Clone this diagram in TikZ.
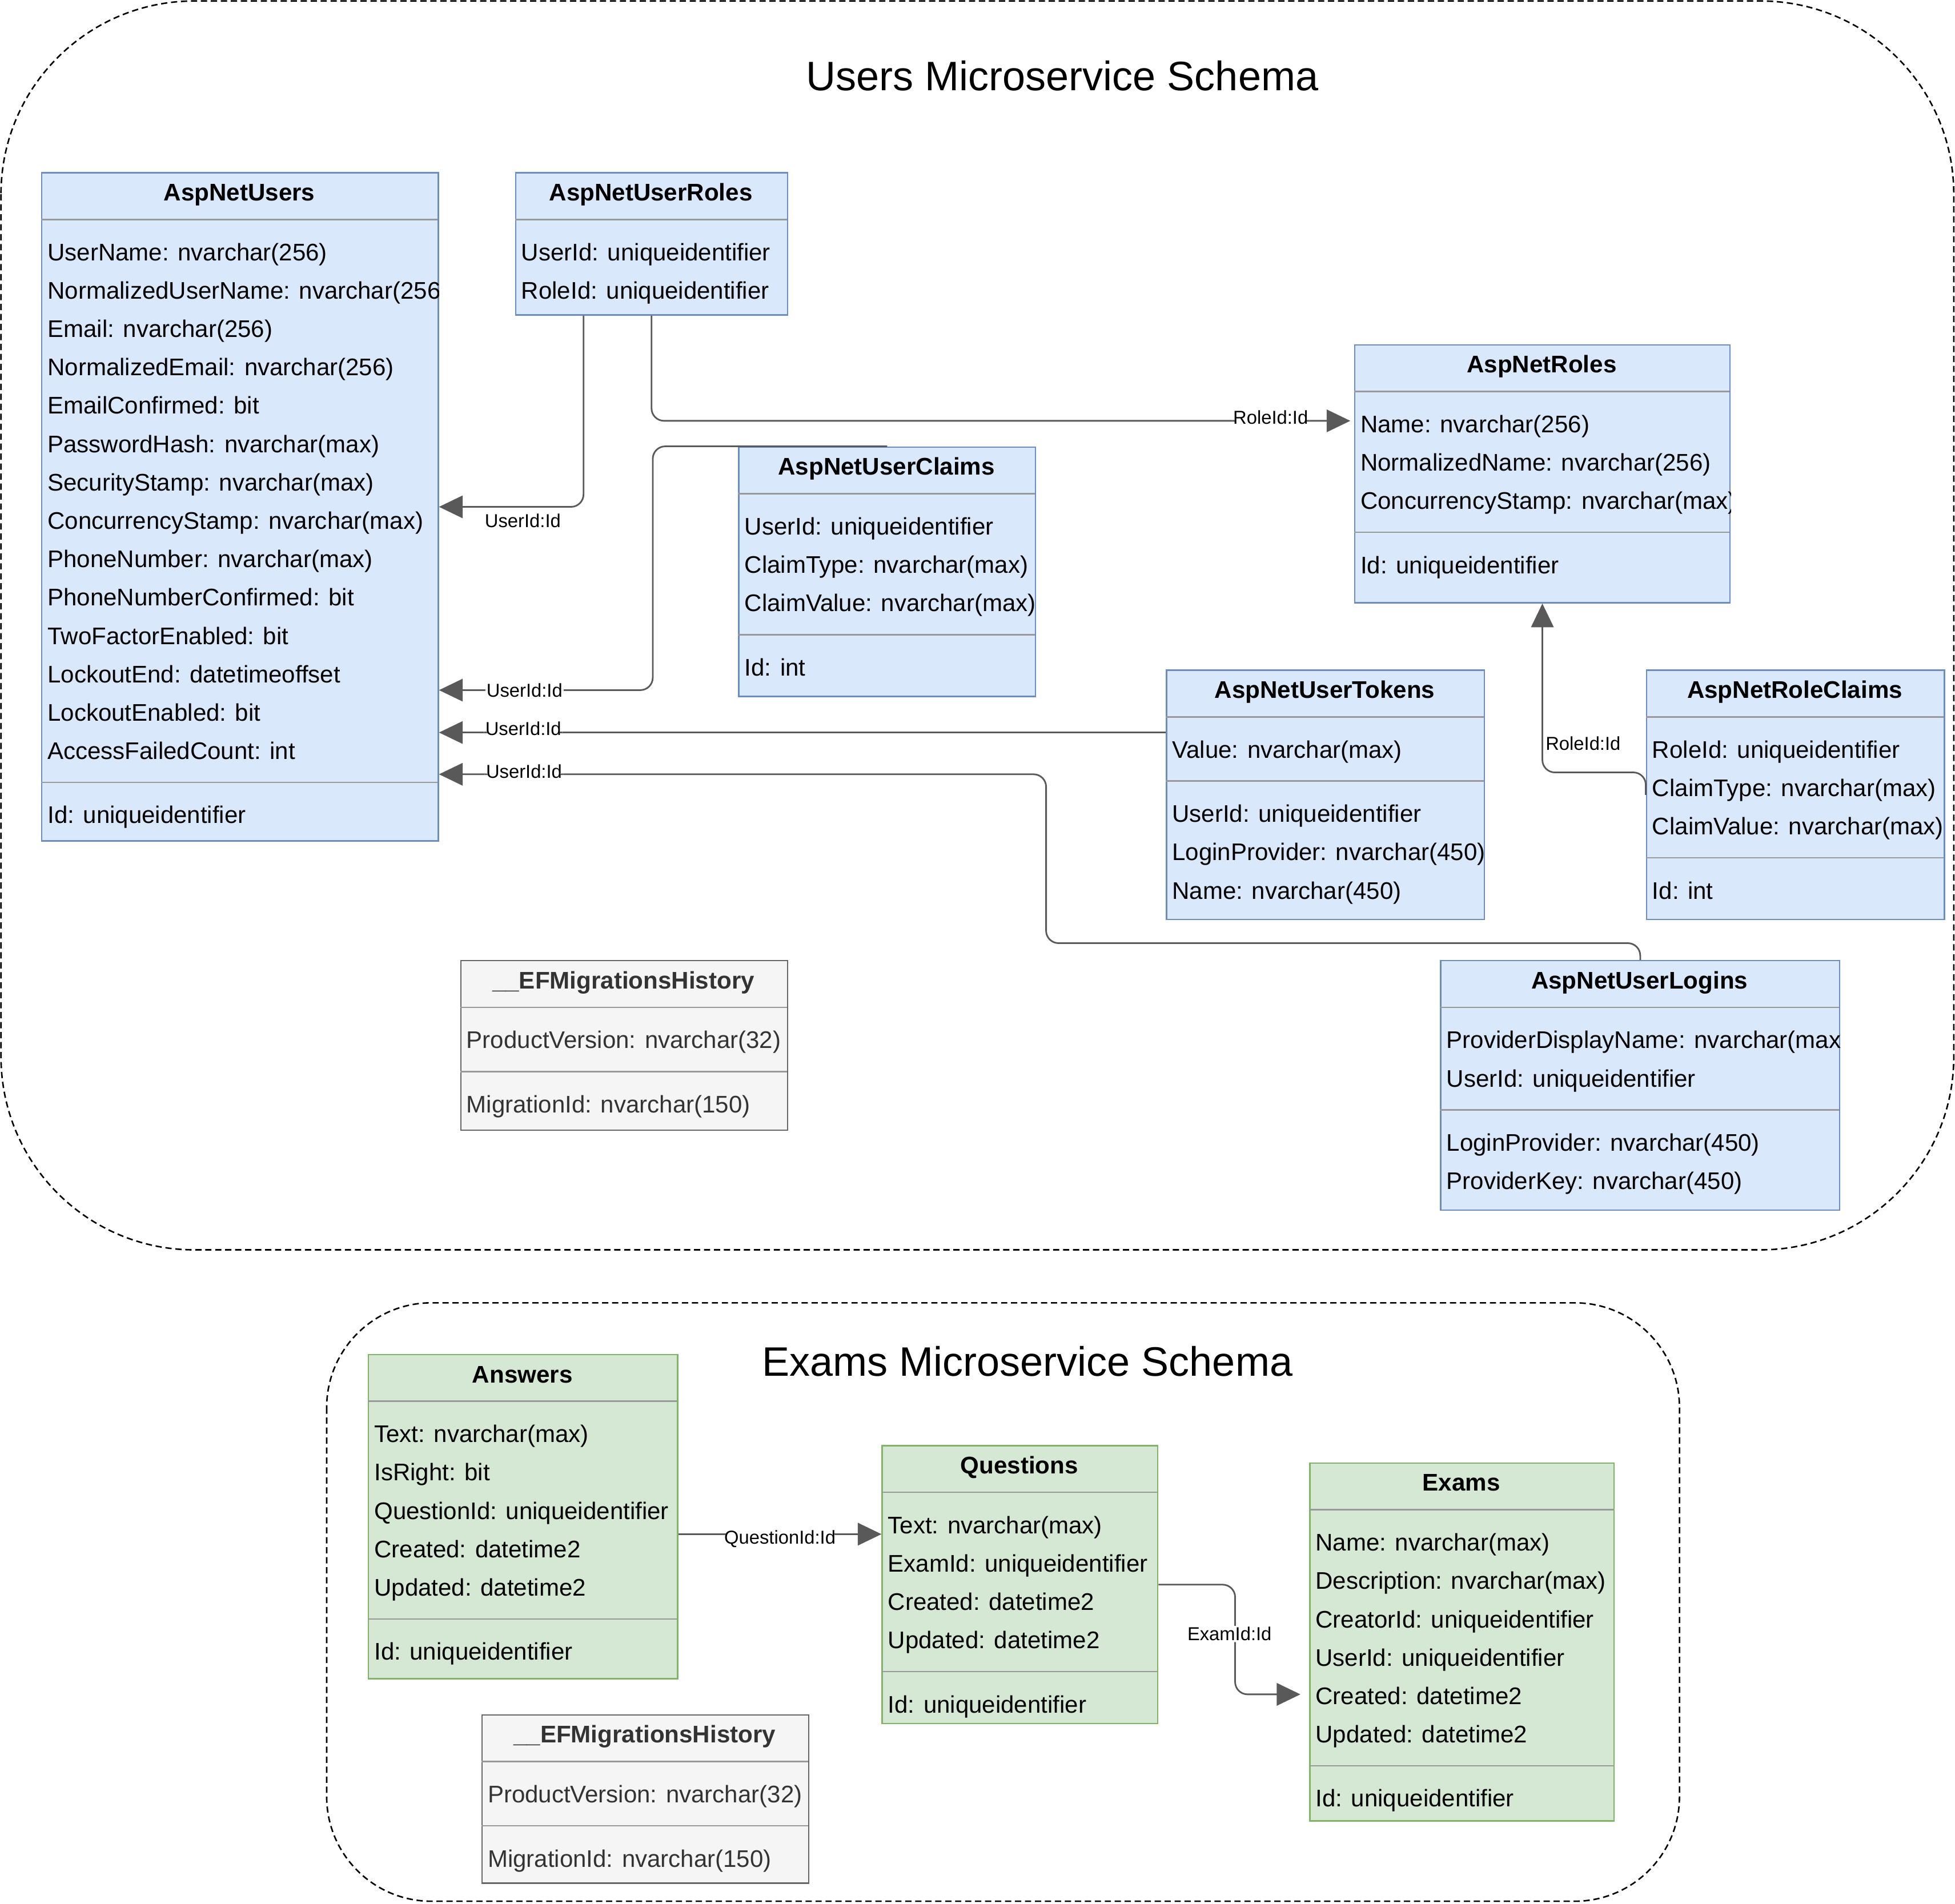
\documentclass[tikz,border=0pt]{standalone}
\usepackage{fontspec}
\setmainfont{Liberation Sans}
\usetikzlibrary{arrows.meta}
\definecolor{tblblue}{HTML}{DAE8FC}
\definecolor{lineblue}{HTML}{6C8EBF}
\definecolor{tblgreen}{HTML}{D5E8D4}
\definecolor{linegreen}{HTML}{82B366}
\definecolor{tblgray}{HTML}{F5F5F5}
\definecolor{linegray}{HTML}{666666}
\definecolor{txtgray}{HTML}{333333}
\definecolor{sepgray}{HTML}{999999}
\definecolor{fkgray}{HTML}{595959}

\begin{document}
\begin{tikzpicture}
  [x=1pt,y=-1pt,
   every node/.style={inner sep=0pt},
   box/.style={draw, line width=1.1pt, anchor=north west},
   bluebox/.style={box, draw=lineblue, fill=tblblue},
   greenbox/.style={box, draw=linegreen, fill=tblgreen},
   graybox/.style={box, draw=linegray, fill=tblgray},
   hdr/.style={anchor=base, font=\fontsize{19.3}{23}\selectfont\bfseries},
   fld/.style={anchor=base west, font=\fontsize{19.25}{23}\selectfont},
   sep/.style={draw=sepgray, line width=1.2pt},
   fk/.style={draw=fkgray, line width=1.3pt, rounded corners=10pt, -{Triangle[length=19pt,width=18pt]}},
   lbl/.style={font=\fontsize{15}{18}\selectfont, fill=white, inner sep=1pt},
   group/.style={draw, dash pattern=on 5pt off 3pt, line width=1.2pt}]

  \useasboundingbox (0,0) rectangle (1568,1527);

  % schema frames
  \draw[group, rounded corners=155pt] (0.8,0.8) rectangle (1567,1002.5);
  \draw[group, rounded corners=84pt] (262,1045) rectangle (1347,1525);
  \node[font=\fontsize{33}{40}\selectfont] (userstitle) at (852,61) {Users Microservice Schema};
  \node[font=\fontsize{33}{40}\selectfont] (examstitle) at (824,1092) {Exams Microservice Schema};

  % AspNetUsers
  \node[bluebox, minimum width=318pt, minimum height=536pt] (users) at (33,138) {};
  \node[hdr] at (192,161) {AspNetUsers};
  \draw[sep] (33,176) -- (351,176);
  \begin{scope}
    \clip (users.north west) rectangle (users.south east);
    \foreach \f [count=\i from 0] in {UserName: nvarchar(256), NormalizedUserName: nvarchar(256),
      Email: nvarchar(256), NormalizedEmail: nvarchar(256), EmailConfirmed: bit,
      PasswordHash: nvarchar(max), SecurityStamp: nvarchar(max), ConcurrencyStamp: nvarchar(max),
      PhoneNumber: nvarchar(max), PhoneNumberConfirmed: bit, TwoFactorEnabled: bit,
      LockoutEnd: datetimeoffset, LockoutEnabled: bit, AccessFailedCount: int}
      \node[fld] at (38,{209+30.77*\i}) {\f};
  \end{scope}
  \draw[sep] (33,627.5) -- (351,627.5);
  \node[fld] at (38,660.5) {Id: uniqueidentifier};

  % AspNetUserRoles
  \node[bluebox, minimum width=218pt, minimum height=114pt] (userroles) at (413,138) {};
  \node[hdr] at (522,161) {AspNetUserRoles};
  \draw[sep] (413,176) -- (631,176);
  \foreach \f [count=\i from 0] in {UserId: uniqueidentifier, RoleId: uniqueidentifier}
    \node[fld] at (418,{209+30.77*\i}) {\f};

  % AspNetRoles
  \node[bluebox, minimum width=301pt, minimum height=207pt] (roles) at (1086,276) {};
  \node[hdr] at (1236.5,299) {AspNetRoles};
  \draw[sep] (1086,314) -- (1387,314);
  \begin{scope}
    \clip (roles.north west) rectangle (roles.south east);
    \foreach \f [count=\i from 0] in {Name: nvarchar(256), NormalizedName: nvarchar(256), ConcurrencyStamp: nvarchar(max)}
      \node[fld] at (1091,{347+30.77*\i}) {\f};
  \end{scope}
  \draw[sep] (1086,427) -- (1387,427);
  \node[fld] at (1091,460) {Id: uniqueidentifier};

  % AspNetUserClaims
  \node[bluebox, minimum width=238pt, minimum height=200pt] (userclaims) at (592,358) {};
  \node[hdr] at (711,381) {AspNetUserClaims};
  \draw[sep] (592,396) -- (830,396);
  \foreach \f [count=\i from 0] in {UserId: uniqueidentifier, ClaimType: nvarchar(max), ClaimValue: nvarchar(max)}
    \node[fld] at (597,{429+30.77*\i}) {\f};
  \draw[sep] (592,509) -- (830,509);
  \node[fld] at (597,542) {Id: int};

  % AspNetUserTokens
  \node[bluebox, minimum width=255pt, minimum height=200pt] (usertokens) at (935,537) {};
  \node[hdr] at (1062.5,560) {AspNetUserTokens};
  \draw[sep] (935,575) -- (1190,575);
  \node[fld] at (940,608) {Value: nvarchar(max)};
  \draw[sep] (935,626.5) -- (1190,626.5);
  \foreach \f [count=\i from 0] in {UserId: uniqueidentifier, LoginProvider: nvarchar(450), Name: nvarchar(450)}
    \node[fld] at (940,{659.5+30.77*\i}) {\f};

  % AspNetRoleClaims
  \node[bluebox, minimum width=239pt, minimum height=200pt] (roleclaims) at (1320,537) {};
  \node[hdr] at (1439.5,560) {AspNetRoleClaims};
  \draw[sep] (1320,575) -- (1559,575);
  \foreach \f [count=\i from 0] in {RoleId: uniqueidentifier, ClaimType: nvarchar(max), ClaimValue: nvarchar(max)}
    \node[fld] at (1325,{608+30.77*\i}) {\f};
  \draw[sep] (1320,688) -- (1559,688);
  \node[fld] at (1325,721) {Id: int};

  % __EFMigrationsHistory (users)
  \node[graybox, minimum width=262pt, minimum height=136pt] (usershistory) at (369,770) {};
  \node[hdr, text=txtgray] at (500,793) {\_\_EFMigrationsHistory};
  \draw[sep] (369,808) -- (631,808);
  \node[fld, text=txtgray] at (374,841) {ProductVersion: nvarchar(32)};
  \draw[sep] (369,859.5) -- (631,859.5);
  \node[fld, text=txtgray] at (374,892.5) {MigrationId: nvarchar(150)};

  % AspNetUserLogins
  \node[bluebox, minimum width=320pt, minimum height=200pt] (userlogins) at (1155,770) {};
  \node[hdr] at (1315,793) {AspNetUserLogins};
  \draw[sep] (1155,808) -- (1475,808);
  \begin{scope}
    \clip (userlogins.north west) rectangle (userlogins.south east);
    \foreach \f [count=\i from 0] in {ProviderDisplayName: nvarchar(max), UserId: uniqueidentifier}
      \node[fld] at (1160,{841+30.77*\i}) {\f};
  \end{scope}
  \draw[sep] (1155,890.3) -- (1475,890.3);
  \foreach \f [count=\i from 0] in {LoginProvider: nvarchar(450), ProviderKey: nvarchar(450)}
    \node[fld] at (1160,{923.3+30.77*\i}) {\f};

  % Answers
  \node[greenbox, minimum width=248pt, minimum height=260pt] (answers) at (295,1086) {};
  \node[hdr] at (419,1109) {Answers};
  \draw[sep] (295,1124) -- (543,1124);
  \foreach \f [count=\i from 0] in {Text: nvarchar(max), IsRight: bit, QuestionId: uniqueidentifier,
    Created: datetime2, Updated: datetime2}
    \node[fld] at (300,{1157+30.77*\i}) {\f};
  \draw[sep] (295,1298.6) -- (543,1298.6);
  \node[fld] at (300,1331.6) {Id: uniqueidentifier};

  % __EFMigrationsHistory (exams)
  \node[graybox, minimum width=262pt, minimum height=135pt] (examshistory) at (386,1375) {};
  \node[hdr, text=txtgray] at (517,1398) {\_\_EFMigrationsHistory};
  \draw[sep] (386,1413) -- (648,1413);
  \node[fld, text=txtgray] at (391,1446) {ProductVersion: nvarchar(32)};
  \draw[sep] (386,1464.5) -- (648,1464.5);
  \node[fld, text=txtgray] at (391,1497.5) {MigrationId: nvarchar(150)};

  % Questions
  \node[greenbox, minimum width=221pt, minimum height=223pt] (questions) at (707,1159) {};
  \node[hdr] at (817.5,1182) {Questions};
  \draw[sep] (707,1197) -- (928,1197);
  \foreach \f [count=\i from 0] in {Text: nvarchar(max), ExamId: uniqueidentifier, Created: datetime2, Updated: datetime2}
    \node[fld] at (712,{1230+30.77*\i}) {\f};
  \draw[sep] (707,1340.8) -- (928,1340.8);
  \node[fld] at (712,1373.8) {Id: uniqueidentifier};

  % Exams
  \node[greenbox, minimum width=244pt, minimum height=287pt] (exams) at (1050,1173) {};
  \node[hdr] at (1172,1196) {Exams};
  \draw[sep] (1050,1211) -- (1294,1211);
  \foreach \f [count=\i from 0] in {Name: nvarchar(max), Description: nvarchar(max), CreatorId: uniqueidentifier,
    UserId: uniqueidentifier, Created: datetime2, Updated: datetime2}
    \node[fld] at (1055,{1244+30.77*\i}) {\f};
  \draw[sep] (1050,1416.3) -- (1294,1416.3);
  \node[fld] at (1055,1449.3) {Id: uniqueidentifier};

  % foreign keys
  \coordinate (loginbend) at (839,756.5);
  \coordinate (qlink) at ([yshift=-14pt]answers.east);
  \draw[fk] ([xshift=55pt]userroles.south west) |- (users.east)
    node[lbl, pos=0.71, yshift=-11pt, fill=none] {UserId:Id};
  \draw[fk] (userroles.south) |- ([xshift=-3pt,yshift=42.5pt]roles.west)
    node[lbl, pos=0.943, yshift=3pt] {RoleId:Id};
  \draw[fk] (userclaims.north) -- ++(-188,0) |- ([yshift=-147pt]users.east)
    node[lbl, pos=0.80] {UserId:Id};
  \draw[fk] ([yshift=50pt]usertokens.west) -- ([yshift=-181pt]users.east)
    node[lbl, pos=0.884, yshift=3pt] {UserId:Id};
  \draw[fk] (userlogins.north) |- (loginbend) |- ([yshift=-214.5pt]users.east)
    node[lbl, pos=0.93, yshift=2.5pt] {UserId:Id};
  \draw[fk] (roleclaims.west) -- ++(0,-18) -| (roles.south)
    node[lbl, pos=0.586, anchor=west, xshift=1pt, fill=none] {RoleId:Id};
  \draw[fk] (qlink) -- (qlink -| questions.west)
    node[lbl, pos=0.5, yshift=-4pt] {QuestionId:Id};
  \draw[fk] (questions.east) -- ++(61.5,0) |- ([xshift=-7pt,yshift=-42pt]exams.west)
    node[lbl, pos=0.225, xshift=-4.5pt] {ExamId:Id};
\end{tikzpicture}
\end{document}
